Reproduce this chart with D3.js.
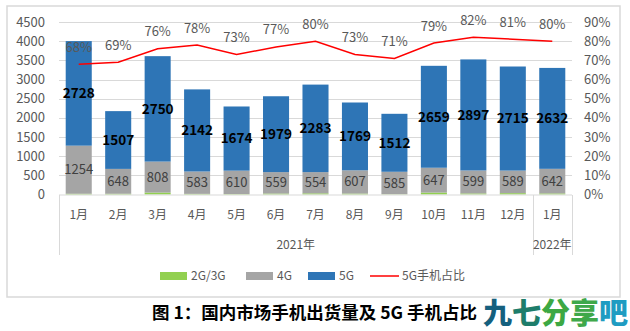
<!DOCTYPE html>
<html><head><meta charset="utf-8">
<script src="https://cdn.jsdelivr.net/npm/d3@7"></script>
<style>body{margin:0;background:#fff;}svg{display:block;}</style>
</head><body>
<script>
const months = ["1月","2月","3月","4月","5月","6月","7月","8月","9月","10月","11月","12月","1月"];
const years = [{label:"2021年", from:0, to:11},{label:"2022年", from:12, to:12}];
const g23 = [20, 20, 51, 17, 12, 25, 30, 24, 8, 51, 28, 35, 28];
const g4 = [1254, 648, 808, 583, 610, 559, 554, 607, 585, 647, 599, 589, 642];
const g5 = [2728, 1507, 2750, 2142, 1674, 1979, 2283, 1769, 1512, 2659, 2897, 2715, 2632];
const share = [68, 69, 76, 78, 73, 77, 80, 73, 71, 79, 82, 81, 80];
const leftTicks = [0,500,1000,1500,2000,2500,3000,3500,4000,4500];
const rightTicks = [0,10,20,30,40,50,60,70,80,90];
const seriesNames = ["2G/3G","4G","5G","5G手机占比"];
const colors = {g23:"#92D050", g4:"#A5A5A5", g5:"#2E75B6", line:"#FF0000"};

const W=630,H=331;
const svg=d3.select("body").append("svg").attr("width",W).attr("height",H);
const font="'Noto Sans CJK SC','Noto Sans',sans-serif";

// frame
svg.append("rect").attr("x",7).attr("y",6).attr("width",613).attr("height",291)
  .attr("fill","#fff").attr("stroke","#D9D9D9").attr("stroke-width",1.5);

const x0=59,x1=572,yTop=22,yBot=194.5;
const x=d3.scaleBand().domain(d3.range(months.length)).range([x0,x1]).paddingInner(0.34).paddingOuter(0.17);
const y=d3.scaleLinear().domain([0,4500]).range([yBot,yTop]);
const y2=d3.scaleLinear().domain([0,90]).range([yBot,yTop]);

// grid
svg.append("g").selectAll("line").data(leftTicks.slice(1)).join("line")
  .attr("x1",x0).attr("x2",x1).attr("y1",d=>Math.round(y(d))+0.5).attr("y2",d=>Math.round(y(d))+0.5)
  .attr("stroke","#D9D9D9").attr("stroke-width",1);

// left axis labels
svg.append("g").selectAll("text").data(leftTicks).join("text")
  .attr("x",45).attr("y",d=>y(d)).attr("dy","0.35em").attr("text-anchor","end")
  .attr("font-family",font).attr("font-size",13).attr("fill","#595959").text(d=>d);
// right axis labels
svg.append("g").selectAll("text").data(rightTicks).join("text")
  .attr("x",584).attr("y",d=>y2(d)).attr("dy","0.35em").attr("text-anchor","start")
  .attr("font-family",font).attr("font-size",13).attr("fill","#595959").text(d=>d+"%");

// stacked bars
const stackData = months.map((m,i)=>({i, g23:g23[i], g4:g4[i], g5:g5[i]}));
const stack=d3.stack().keys(["g23","g4","g5"])(stackData);
svg.append("g").selectAll("g").data(stack).join("g").attr("fill",d=>colors[d.key])
  .selectAll("rect").data(d=>d).join("rect")
  .attr("x",d=>x(d.data.i)).attr("width",x.bandwidth())
  .attr("y",d=>y(d[1])).attr("height",d=>y(d[0])-y(d[1]));

// axis baseline & category separators
const axisG=svg.append("g").attr("stroke","#D9D9D9").attr("stroke-width",1);
axisG.append("line").attr("x1",x0).attr("x2",x1).attr("y1",195).attr("y2",195);
const sepX=[x0, x(12)-x.step()*x.paddingInner()/2, x1];
axisG.selectAll("line.sep").data(sepX).join("line").attr("class","sep")
  .attr("x1",d=>Math.round(d)+0.5).attr("x2",d=>Math.round(d)+0.5).attr("y1",195).attr("y2",255);

// category labels
svg.append("g").selectAll("text").data(months).join("text")
  .attr("x",(d,i)=>x(i)+x.bandwidth()/2).attr("y",215).attr("dy","0.35em").attr("text-anchor","middle")
  .attr("font-family",font).attr("font-size",12).attr("fill","#595959").text(d=>d);
svg.append("g").selectAll("text").data(years).join("text")
  .attr("x",d=>(x(d.from)+x(d.to)+x.bandwidth())/2).attr("y",245).attr("dy","0.35em").attr("text-anchor","middle")
  .attr("font-family",font).attr("font-size",12).attr("fill","#595959").text(d=>d.label);

// 4G labels
svg.append("g").selectAll("text").data(stackData).join("text")
  .attr("x",d=>x(d.i)+x.bandwidth()/2).attr("y",d=>y(d.g23+d.g4/2)).attr("dy","0.35em").attr("text-anchor","middle")
  .attr("font-family",font).attr("font-size",13).attr("fill","#404040").text(d=>d.g4);
// 5G labels
svg.append("g").selectAll("text").data(stackData).join("text")
  .attr("x",d=>x(d.i)+x.bandwidth()/2).attr("y",d=>y(d.g23+d.g4+d.g5/2)).attr("dy","0.35em").attr("text-anchor","middle")
  .attr("font-family",font).attr("font-size",13.5).attr("font-weight","bold").attr("fill","#000").text(d=>d.g5);

// line
const line=d3.line().x((d,i)=>x(i)+x.bandwidth()/2).y(d=>y2(d));
svg.append("path").datum(share).attr("d",line).attr("fill","none").attr("stroke",colors.line).attr("stroke-width",1.5);
svg.append("g").selectAll("text").data(share).join("text")
  .attr("x",(d,i)=>x(i)+x.bandwidth()/2).attr("y",d=>y2(d)-17).attr("dy","0.35em").attr("text-anchor","middle")
  .attr("font-family",font).attr("font-size",13).attr("fill","#595959").text(d=>d+"%");

// legend
const leg=svg.append("g").attr("font-family",font).attr("font-size",12).attr("fill","#595959");
const legItems=[{n:seriesNames[0],c:colors.g23,x:160,t:"rect"},{n:seriesNames[1],c:colors.g4,x:246,t:"rect"},{n:seriesNames[2],c:colors.g5,x:308,t:"rect"},{n:seriesNames[3],c:colors.line,x:370,t:"line"}];
legItems.forEach(d=>{
  if(d.t==="rect") leg.append("rect").attr("x",d.x).attr("y",272).attr("width",27).attr("height",8).attr("fill",d.c);
  else leg.append("line").attr("x1",d.x).attr("x2",d.x+29).attr("y1",276).attr("y2",276).attr("stroke",d.c).attr("stroke-width",1.5);
  leg.append("text").attr("x",d.x+(d.t==="rect"?31:32)).attr("y",276).attr("dy","0.35em").text(d.n);
});

// title
svg.append("text").attr("x",152).attr("y",313).attr("dy","0.35em").attr("font-family",font)
  .attr("font-size",17.5).attr("font-weight","bold").attr("fill","#000").text("图 1：国内市场手机出货量及 5G 手机占比");

// logo
const logo=svg.append("text").attr("x",483).attr("y",313).attr("dy","0.38em").attr("font-family",font)
  .attr("font-size",29).attr("font-weight","900");
[["九","#15607E"],["七","#1E7D6B"],["分","#3DA843"],["享","#3FA84A"],["吧","#1F9CC2"]].forEach(([c,f])=>logo.append("tspan").attr("fill",f).text(c));
</script>
</body></html>
